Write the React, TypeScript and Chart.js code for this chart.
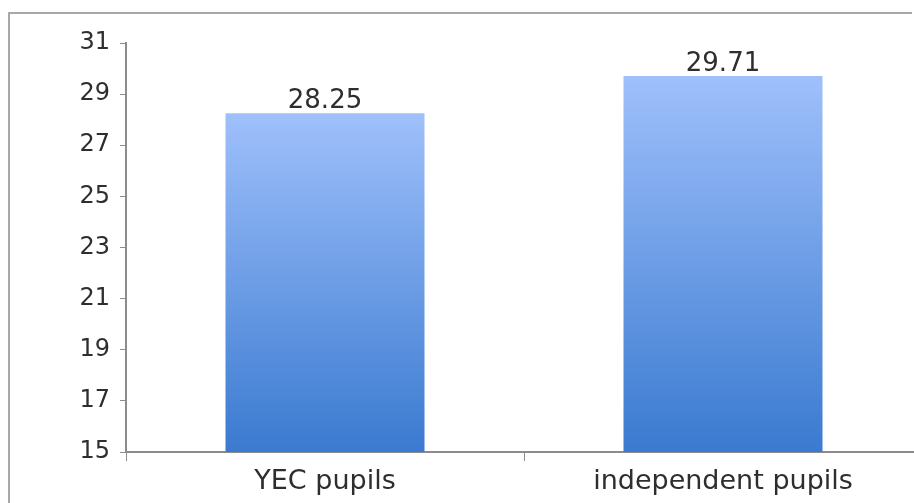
import React, { useEffect, useRef } from "react";
import { Chart, registerables } from "chart.js";

Chart.register(...registerables);

const categories = ["YEC pupils", "independent pupils"];
const values = [28.25, 29.71];
const yMin = 15;
const yMax = 31;
const yStep = 2;

const FONT = "'DejaVu Sans', Verdana, sans-serif";
const AXIS = "#8c8c8c";
const TEXT = "#2e2e2e";

const valueLabels = {
  id: "valueLabels",
  afterDatasetsDraw(chart: any) {
    const ctx = chart.ctx;
    const meta = chart.getDatasetMeta(0);
    ctx.save();
    ctx.font = `26px ${FONT}`;
    ctx.fillStyle = TEXT;
    ctx.textAlign = "center";
    ctx.textBaseline = "alphabetic";
    meta.data.forEach((el: any, i: number) => {
      ctx.fillText(values[i].toFixed(2), el.x, el.y - 5);
    });
    ctx.restore();
  },
};

export default function App() {
  const ref = useRef<HTMLCanvasElement | null>(null);
  useEffect(() => {
    if (!ref.current) return;
    const chart = new Chart(ref.current, {
      type: "bar",
      data: {
        labels: categories,
        datasets: [
          {
            data: values,
            backgroundColor: (c: any) => {
              const ch = c.chart;
              const ys = ch.scales && ch.scales.y;
              if (!ys || c.raw == null) return "#6a9ae6";
              const top = ys.getPixelForValue(c.raw);
              const bottom = ys.getPixelForValue(yMin);
              if (!isFinite(top) || !isFinite(bottom) || top === bottom) return "#6a9ae6";
              const g = ch.ctx.createLinearGradient(0, top, 0, bottom);
              g.addColorStop(0, "#9fc0fb");
              g.addColorStop(1, "#3a7ad0");
              return g;
            },
            borderWidth: 0,
            categoryPercentage: 1,
            barPercentage: 0.5,
          },
        ],
      },
      options: {
        responsive: false,
        animation: false,
        layout: { padding: { top: 43, left: 0, right: 38, bottom: 0 } },
        plugins: { legend: { display: false }, tooltip: { enabled: false } },
        scales: {
          x: {
            grid: {
              offset: true,
              drawOnChartArea: false,
              drawTicks: true,
              tickLength: 9,
              color: AXIS,
              lineWidth: 1,
            },
            border: { display: true, color: AXIS, width: 2 },
            ticks: {
              font: { family: FONT, size: 27 },
              color: TEXT,
              padding: 5,
              maxRotation: 0,
            },
            afterFit: (s: any) => {
              s.height = 51;
            },
          },
          y: {
            min: yMin,
            max: yMax,
            grid: {
              drawOnChartArea: false,
              drawTicks: true,
              tickLength: 6,
              color: AXIS,
              lineWidth: 1,
            },
            border: { display: true, color: AXIS, width: 2 },
            ticks: {
              stepSize: yStep,
              font: { family: FONT, size: 24 },
              color: TEXT,
              padding: 10,
            },
            afterFit: (s: any) => {
              s.width = 126;
            },
          },
        },
      },
      plugins: [valueLabels],
    });
    chart.update();
    return () => chart.destroy();
  }, []);

  return (
    <div
      style={{
        position: "fixed",
        left: 0,
        top: 0,
        width: 914,
        height: 503,
        overflow: "hidden",
        background: "#fff",
      }}
    >
      <div
        style={{
          position: "absolute",
          left: 8,
          top: 12,
          width: 904,
          height: 2,
          background: "#a8a8a8",
        }}
      />
      <div
        style={{
          position: "absolute",
          left: 8,
          top: 12,
          width: 2,
          height: 491,
          background: "#a8a8a8",
        }}
      />
      <canvas
        ref={ref}
        width={960}
        height={503}
        style={{ position: "absolute", left: 0, top: 0, width: 960, height: 503 }}
      />
    </div>
  );
}
